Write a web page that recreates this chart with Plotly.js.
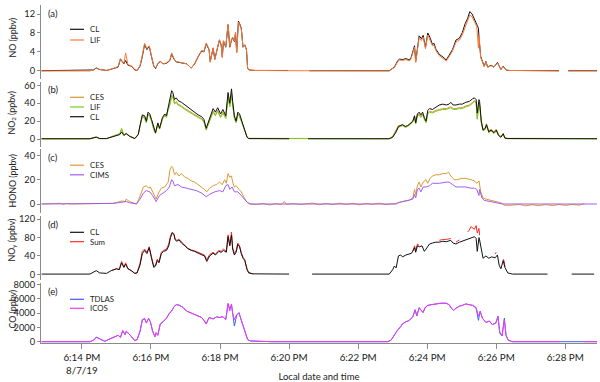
<!DOCTYPE html>
<html><head><meta charset="utf-8">
<script src="https://cdn.plot.ly/plotly-3.0.1.min.js"></script>
<style>html,body{margin:0;padding:0;background:#fff}#chart{width:600px;height:382px}</style>
</head><body><div id="chart"></div>
<script>
// ---------- DATA (times are minutes:seconds after 6:00 PM, 8/7/19) ----------
// Panel (a) NO
const tA = ["12:50","14:14","14:20","14:25","14:31","14:43","14:49","14:57","15:03","15:07",
"15:13","15:16","15:20","15:26","15:32","15:36","15:41","15:45","15:49","15:53",
"15:57","16:01","16:05","16:08","16:12","16:16","16:21","16:27","16:33","16:36",
"16:40","16:44","16:53","17:02","17:10","17:16","17:22","17:28","17:32","17:36",
"17:41","17:43","17:48","17:51","17:55","17:59","18:02","18:04","18:06","18:10",
"18:14","18:17","18:20","18:22","18:25","18:27","18:29","18:32","18:34","18:37",
"18:40","18:43","18:46","18:48","18:51","19:00","19:58","20:00","20:35","22:54",
"22:57","23:03","23:09","23:12","23:17","23:23","23:29","23:32","23:38","23:40",
"23:46","23:50","23:53","23:57","24:01","24:05","24:09","24:12","24:15","24:21",
"24:30","24:33","24:38","24:44","24:50","24:56","25:01","25:06","25:10","25:14",
"25:18","25:22","25:26","25:29","25:30","25:33","25:36","25:39","25:42","25:45",
"25:51","25:56","26:02","26:05","26:08","26:12","26:17","26:22","27:49","27:50",
"28:05","28:55"];
const noCL = [0.05,0.05,0.2,0.6,0.3,0.1,0.3,0.6,0.8,2.5,
1.5,2.2,1.2,1.0,0.2,0.1,1.0,3.0,5.6,4.5,
5.2,3.0,1.0,0.5,1.5,2.0,1.5,1.6,2.2,3.6,
2.5,1.9,1.7,1.5,0.6,1.5,3.0,4.2,4.0,5.7,
4.5,2.0,4.8,2.5,4.5,6.5,5.5,3.0,6.3,5.0,
9.7,5.0,6.5,7.0,6.2,8.0,4.0,10.5,10.0,9.0,
5.0,5.5,4.5,0.5,0.2,0.1,0.1,null,0.05,0.05,
0.3,0.8,2.2,2.5,2.4,2.6,2.3,2.8,5.3,2.0,
7.4,6.8,7.5,5.0,8.0,7.0,5.6,5.8,4.6,3.5,
2.7,2.3,3.3,4.5,6.5,6.9,8.1,10.0,11.0,12.5,
12.0,11.0,10.0,9.0,7.0,3.0,2.0,1.0,2.0,0.8,
1.2,0.8,1.8,1.0,0.3,1.0,0.2,0.1,0.05,null,
0.05,0.05];
const noLIF = [0,0,0.2,0.7,0.3,0.1,0.3,0.6,0.9,2.6,
1.6,3.8,1.3,1.1,0.3,0.1,1.1,3.3,5.8,4.7,
5.3,3.1,1.0,0.6,1.6,2.1,1.5,1.7,2.3,3.8,
2.6,2.0,1.7,1.5,0.6,1.5,3.1,4.3,4.1,5.9,
4.6,1.8,4.9,2.3,4.6,6.6,5.6,2.8,6.4,5.1,
9.9,5.1,6.6,7.1,6.3,8.2,3.8,10.3,9.8,8.8,
5.1,5.4,4.4,0.6,0.2,0.1,0.05,0.05,0,0,
0.3,0.7,2.0,2.3,2.2,2.4,2.1,2.6,5.0,1.8,
7.0,6.4,7.1,4.7,7.6,6.6,5.3,5.4,4.3,3.2,
2.5,2.1,3.0,4.2,6.1,6.5,7.6,9.4,10.4,11.8,
11.4,10.4,9.4,4.8,7.5,2.8,1.9,0.9,1.9,0.8,
1.1,0.8,1.7,0.9,0.3,0.9,0.2,0.1,0,null,
0,0];

// Panel (b) NO2
const tB = ["12:50","14:14","14:25","14:31","14:43","14:51","15:00","15:06","15:09","15:13",
"15:17","15:23","15:32","15:38","15:41","15:45","15:49","15:52","15:55","15:58",
"16:01","16:05","16:08","16:12","16:15","16:20","16:24","16:27","16:30","16:33",
"16:36","16:38","16:41","16:44","16:47","16:53","16:59","17:04","17:10","17:16",
"17:22","17:28","17:32","17:36","17:41","17:48","17:52","17:56","18:01","18:05",
"18:10","18:14","18:17","18:20","18:22","18:25","18:28","18:31","18:34","18:37",
"18:43","18:47","18:50","20:00","20:01","20:33","22:54","23:00","23:06","23:10",
"23:14","23:17","23:22","23:26","23:30","23:35","23:38","23:40","23:43","23:46",
"23:49","23:52","23:55","23:58","24:01","24:04","24:09","24:15","24:21","24:27",
"24:33","24:38","24:41","24:45","24:50","24:56","25:01","25:07","25:13","25:19",
"25:22","25:25","25:27","25:30","25:31","25:34","25:37","25:41","25:43","25:47",
"25:51","25:56","26:00","26:04","26:08","26:12","26:15","26:20","28:55"];
const no2CES = [0.3,0.3,2.5,0.6,0.6,2.4,4.5,6,11,5,
6.5,3.5,0.8,5.5,15,26,24,19,28,26,
21,11,7,17,12,23,27,25,34,39,
49,48,40,42,39,37,34,32,29,27,
25,23,20,11,20,31,27,32,25,30,
24,47,37,51,39,24,19,28,26,21,
10,2.5,0.8,0.5,0.5,0.5,0.5,3,9.5,15,
15,16,14,15,17,20,25,18,27,28,
25,28,23,19,29,31,30,32,33,34,
34,35,36,34,34,35,35,37,38,41,
43,41,23,41,39,19,11,13,17,9,
11,8,11,5,3,6,1.5,0.8,0.5];
const no2LIF = [0.3,0.3,2.2,0.5,0.5,2.2,4,6,12,4.5,
6,3,0.5,5,14,25,23,18,27,25,
20,10,6,16,11,22,26,24,33,38,
48,47,39,41,38,36,33,31,28,26,
24,22,19,10,19,30,26,31,24,29,
23,46,36,50,38,23,18,27,25,20,
9,2,0.5,0.3,0.3,0.3,0.3,2,8,13,
14,15,13,14,16,19,24,17,26,27,
24,27,22,18,28,30,29,31,32,33,
33,34,35,33,33,34,34,36,37,40,
42,40,22,40,38,18,9,11,15,7,
9,6,9,4,2,5,1,0.5,0.3];
const no2CL = [0.3,0.3,2,0.5,0.5,2,4,5,8,4,
6,3,0.5,5,15,27,26,20,30,28,
22,12,7,18,12,24,28,26,36,42,
54,52,44,46,43,41,38,35,32,30,
27,25,22,12,22,34,30,35,28,33,
26,52,40,56,42,26,20,30,28,22,
10,2,0.5,0.3,null,0.3,0.3,2,8,14,
15,16,14,15,17,20,26,18,28,30,
27,30,24,20,32,34,33,36,38,39,
38,39,41,38,38,39,39,41,42,45,
46,44,29,44,42,20,10,12,16,8,
10,7,10,4,2,6,1,0.5,0.3];

// Panel (c) HONO
const tCES = ["12:50","13:22","13:28","13:33","13:40","14:14","14:49","14:54","15:03","15:09",
"15:15","15:17","15:23","15:29","15:35","15:39","15:43","15:47","15:52","15:56",
"15:59","16:03","16:07","16:09","16:14","16:18","16:24","16:30","16:33","16:36",
"16:38","16:41","16:44","16:49","16:53","16:59","17:04","17:10","17:16","17:25",
"17:33","17:37","17:42","17:48","17:54","17:59","18:04","18:08","18:11","18:14",
"18:17","18:20","18:22","18:25","18:28","18:33","18:37","18:41","18:46","18:51",
"19:03","19:15","19:26","19:38","19:46","19:52","19:55","20:07","20:20","20:41",
"20:53","21:04","21:16","21:28","21:39","21:51","22:02","22:14","22:25","22:37",
"22:48","23:06","23:09","23:17","23:29","23:35","23:38","23:40","23:43","23:46",
"23:49","23:53","23:58","24:01","24:05","24:09","24:15","24:21","24:27","24:33",
"24:37","24:41","24:47","24:53","24:59","25:07","25:16","25:22","25:26","25:30",
"25:33","25:37","25:42","25:51","25:59","26:08","26:14","26:28","26:40","26:51",
"27:03","27:14","27:26","27:38","27:49","28:01","28:12","28:24","28:33"];
const honoCES = [0,0.6,-0.3,0.5,0,0,0.2,0.5,1.5,2.5,
2,4,2,1,0,4,10,14,15,13,
14,10,5,4,10,13,14,18,28,31,
30,24,26,23,25,22,21,19,18,15,
12,10,13,15,16,18,16,20,17,25,
22,23,18,14,15,12,10,6,2,0,
-0.5,0.5,-0.8,0.3,-0.5,2,-0.3,0.4,-0.5,0.8,
-0.6,0.5,-0.5,0.7,-0.4,0.6,-0.7,0.5,-0.3,0.7,
-0.5,0.5,1,2,3,5,12,8,15,18,
14,18,20,17,21,23,24,24,25,25,
26,23,20,20,21,21,20,19,17,19,
10,5,4,3,2,1,-1,-1,-0.3,-1.5,
-0.6,-1.4,-0.5,-1.3,-0.4,-1.2,-0.3,-1.0,0.3];
const tCIMS = ["12:50","14:49","14:54","15:03","15:09","15:17","15:23","15:29","15:35","15:41",
"15:47","15:52","15:58","16:03","16:07","16:09","16:15","16:21","16:27","16:32",
"16:36","16:38","16:41","16:47","16:53","17:02","17:10","17:19","17:28","17:36",
"17:42","17:51","17:59","18:05","18:10","18:14","18:17","18:21","18:25","18:31",
"18:37","18:43","18:48","18:54","23:06","23:09","23:29","23:35","23:38","23:40",
"23:43","23:46","23:49","23:53","23:58","24:04","24:09","24:21","24:33","24:38",
"24:44","24:50","24:56","25:07","25:16","25:22","25:26","25:30","25:31","25:35",
"25:39","25:48","25:59","26:11","28:55"];
const honoCIMS = [0,0.2,0.5,1,1.5,2,1,0.5,0,4,
9,11,10,7,3,2,7,9,11,14,
20,19,15,16,14,13,12,11,9,6,
8,10,11,10,15,16,12,14,10,10,
7,4,1,0,0,1,3,4,8,5,
12,13,10,14,14,15,17,17,18,18,
16,14,14,14,13,13,12,7,12,5,
3,2,1,0,0];

// Panel (d) NOy
const tD = ["12:50","14:14","14:25","14:31","14:43","14:51","15:00","15:05","15:09","15:13",
"15:16","15:20","15:26","15:32","15:36","15:41","15:45","15:49","15:53","15:57",
"16:01","16:05","16:08","16:11","16:14","16:18","16:22","16:27","16:31","16:34",
"16:37","16:40","16:42","16:45","16:49","16:53","16:59","17:04","17:10","17:16",
"17:22","17:28","17:33","17:37","17:42","17:48","17:52","17:58","18:02","18:06",
"18:11","18:14","18:17","18:20","18:22","18:25","18:28","18:31","18:34","18:37",
"18:40","18:43","18:47","18:50","18:57","20:00","20:01","20:40","22:54","23:00",
"23:03","23:06","23:10","23:14","23:17","23:23","23:29","23:33","23:38","23:40",
"23:43","23:47","23:51","23:55","23:58","24:04","24:09","24:15","24:21","24:27",
"24:33","24:38","24:41","24:45","24:50","24:56","25:01","25:07","25:13","25:18",
"25:22","25:25","25:27","25:30","25:31","25:35","25:37","25:42","25:47","25:52",
"25:58","26:02","26:05","26:08","26:12","26:15","26:20","26:28","27:29","27:30",
"28:11","28:50"];
const noyCL = [0.5,0.5,8,3,2,8,12,10,25,15,
22,12,8,2,3,20,45,52,45,58,
35,15,18,30,25,45,50,52,62,80,
90,87,75,72,75,68,62,56,52,50,
46,43,40,28,40,46,42,50,48,52,
48,82,62,85,55,42,48,65,60,45,
35,30,10,3,1,0.5,null,0.5,0.5,10,
18,14,40,42,38,42,44,46,58,48,
62,60,62,50,55,66,68,70,70,72,
71,72,74,68,66,70,72,74,78,80,
82,78,50,80,75,50,35,40,35,38,
36,42,20,12,30,15,3,0.5,0.5,null,
0.5,0.5];
const tSum = ["14:51","15:00","15:05","15:09","15:13","15:16","15:20","15:26","15:32","15:36",
"15:41","15:45","15:49","15:53","15:57","16:01","16:05","16:08","16:11","16:14",
"16:18","16:22","16:27","16:31","16:34","16:37","16:40","16:42","16:45","16:49",
"16:53","16:59","17:04","17:10","17:16","17:22","17:28","17:33","17:37","17:42",
"17:48","17:52","17:58","18:02","18:06","18:11","18:14","18:17","18:20","18:22",
"18:25","18:28","18:31","18:34","18:37","18:40","18:43","18:47","18:50","18:57",
"23:00","23:35","23:38","23:40","23:43","23:46","23:48","24:21","24:27","24:33",
"24:38","24:41","24:43","24:50","24:56","24:58","25:10","25:13","25:16","25:19",
"25:22","25:25","25:27","25:30","25:31","25:32","25:58","26:00","26:01","26:12",
"26:14","26:15","26:16"];
const noySum = [8,12,11,28,16,25,13,8,2,4,
24,50,55,48,60,38,17,20,33,27,
48,52,55,66,84,92,88,77,74,76,
70,63,57,53,51,48,45,42,32,43,
48,44,52,50,55,50,86,65,92,58,
45,52,68,62,47,37,32,12,4,1,
null,50,62,52,66,63,null,74,76,76,
77,78,null,70,75,null,92,96,104,100,
98,106,90,100,85,null,44,48,null,33,
28,16,null];

// Panel (e) CO
const tE = ["12:50","14:14","14:20","14:25","14:31","14:40","14:46","14:54","15:03","15:07",
"15:11","15:15","15:17","15:22","15:26","15:32","15:36","15:41","15:45","15:49",
"15:52","15:56","15:59","16:03","16:07","16:09","16:12","16:16","16:21","16:27",
"16:32","16:36","16:40","16:44","16:50","16:56","17:02","17:10","17:19","17:28",
"17:33","17:36","17:41","17:48","17:54","17:59","18:05","18:10","18:14","18:17",
"18:20","18:22","18:25","18:29","18:33","18:37","18:41","18:44","18:48","18:53",
"19:30","22:51","22:57","23:02","23:06","23:09","23:13","23:17","23:23","23:29",
"23:35","23:39","23:42","23:46","23:49","23:53","23:56","24:01","24:07","24:15",
"24:24","24:33","24:38","24:42","24:46","24:50","24:56","25:01","25:07","25:13",
"25:19","25:25","25:29","25:32","25:36","25:42","25:48","25:53","25:59","26:03",
"26:06","26:10","26:14","26:17","26:21","26:28","27:51","27:52","28:32","28:33",
"28:55"];
const coTDLAS = [0,0,200,650,400,50,300,600,900,600,
1500,1000,1400,1100,700,150,300,1400,3100,3200,
2700,3200,2800,1400,700,1200,900,2400,2800,3300,
4000,4300,4900,5200,5100,4800,4300,4000,3700,3400,
2900,2500,3400,3200,3500,3400,3500,3100,5300,4600,
5200,4200,2200,3700,4100,3000,2100,1300,300,100,
0,0,200,800,1300,1700,2000,2500,2800,3000,
3500,4500,3600,4800,4400,4100,4700,5100,5200,5300,
5400,5400,5200,4700,4400,4700,5000,5100,5300,5200,
5100,4700,3000,4300,3300,2700,2900,2400,2600,3600,
1200,800,3300,900,200,0,0,0,0,0,
0];
const coICOS = [0,0,200,600,400,50,300,600,900,600,
1600,1000,1500,1100,700,150,300,1500,3000,3300,
2600,3300,2800,1500,700,1300,900,2500,2800,3300,
4000,4300,4900,5200,5100,4800,4300,4000,3700,3400,
2900,2500,3400,3200,3500,3400,3500,3100,5400,4300,
5300,4000,3100,3800,4000,3000,2000,1300,300,100,
0,0,200,800,1400,1700,2000,2500,2800,3000,
3500,4400,3700,4700,4500,4100,4800,5100,5200,5300,
5400,5400,5200,4700,4400,4700,5000,5100,5300,5200,
5100,4800,3600,4200,3300,2700,2900,2400,2600,3400,
1400,800,3000,800,200,0,0,null,null,0,
0];

// Axis ticks / labels
const xTickTimes = ["14:00","16:00","18:00","20:00","22:00","24:00","26:00","28:00"];
const xTickText = ["6:14 PM<br>8/7/19","6:16 PM","6:18 PM","6:20 PM","6:22 PM","6:24 PM","6:26 PM","6:28 PM"];
const panelLabels = ["(a)","(b)","(c)","(d)","(e)"];
const yTitles = ["NO (ppbv)","NO<sub>2</sub> (ppbv)","HONO (ppbv)","NO<sub>y</sub> (ppbv)","CO (ppbv)"];
const yTicks = [[0,4,8,12],[0,20,40,60],[0,20,40],[0,40,80,120],[0,2000,4000,6000,8000]];

// ---------- STYLE ----------
const C = {
  noCL:"#111111", noLIF:"#FA7A3A",
  no2CES:"#E0922E", no2LIF:"#7ACC22", no2CL:"#111111",
  honoCES:"#DE9A30", honoCIMS:"#A35CF2",
  noyCL:"#111111", noySum:"#FF2B2B",
  coTDLAS:"#3F5CFF", coICOS:"#F53AF0"
};
const legends = [
  [["CL",C.noCL],["LIF",C.noLIF]],
  [["CES",C.no2CES],["LIF",C.no2LIF],["CL",C.no2CL]],
  [["CES",C.honoCES],["CIMS",C.honoCIMS]],
  [["CL",C.noyCL],["Sum",C.noySum]],
  [["TDLAS",C.coTDLAS],["ICOS",C.coICOS]]
];
const legendY = [[29.3,40],[97.3,107,116.7],[165.2,174.8],[232.3,241.7],[299.3,308.3]];
const titleY = [38,113,181,240,309];

const W = 600, H = 382, ML = 41, MR = 3, MT = 5, MB = 39;
const PW = W - ML - MR, PH = H - MT - MB;
const px2x = px => (px - ML) / PW;
const py2y = py => (H - MB - py) / PH;
const domTop = [5,82,149,216,283], domBot = [79,147,213,280,343];
const ranges = [[-1.7,13.9],[-8.9,63.7],[-7.4,45.2],[-12.4,127],[-182,8240]];

const FONT = "Lato, 'Open Sans', sans-serif";
const GRAY = "#8a8a8a", TXT = "#222";
const T = a => a.map(s => "2019-08-07 18:" + s);

const traces = [];
function add(t, y, color, ax, name) {
  traces.push({type:"scatter", mode:"lines", x:T(t), y:y, name:name, xaxis:"x", yaxis:ax,
    line:{color:color, width:1}, connectgaps:false, showlegend:false, hoverinfo:"skip"});
}
add(tA, noCL, C.noCL, "y", "CL");
add(tA, noLIF, C.noLIF, "y", "LIF");
add(tB, no2CES, C.no2CES, "y2", "CES");
add(tB, no2LIF, C.no2LIF, "y2", "LIF");
add(tB, no2CL, C.no2CL, "y2", "CL");
add(tCES, honoCES, C.honoCES, "y3", "CES");
add(tCIMS, honoCIMS, C.honoCIMS, "y3", "CIMS");
add(tSum, noySum, C.noySum, "y4", "Sum");
add(tD, noyCL, C.noyCL, "y4", "CL");
add(tE, coTDLAS, C.coTDLAS, "y5", "TDLAS");
add(tE, coICOS, C.coICOS, "y5", "ICOS");

const layout = {
  width: W, height: H, margin:{l:ML, r:MR, t:MT, b:MB},
  paper_bgcolor:"#fff", plot_bgcolor:"#fff", showlegend:false,
  font:{family:FONT, color:TXT, size:9},
  xaxis:{type:"date", anchor:"y5", range:["2019-08-07 18:12:49","2019-08-07 18:28:55"],
    tickvals:T(xTickTimes), ticktext:xTickText, ticks:"outside", ticklen:5, tickwidth:1,
    tickcolor:GRAY, showline:true, linecolor:GRAY, linewidth:1, showgrid:false, zeroline:false,
    tickfont:{family:FONT, size:9.8, color:TXT},
    title:{text:"Local date and time", font:{family:FONT, size:9.5, color:TXT}, standoff:4}},
  annotations:[], shapes:[]
};
for (let i = 0; i < 5; i++) {
  const key = i === 0 ? "yaxis" : "yaxis" + (i + 1);
  layout[key] = {domain:[py2y(domBot[i]), py2y(domTop[i])], range:ranges[i], anchor:"x",
    showline:true, linecolor:GRAY, linewidth:1, ticks:"outside", ticklen:3, tickwidth:1,
    tickcolor:GRAY, tickvals:yTicks[i], showgrid:false, zeroline:false,
    tickfont:{family:FONT, size:9.3, color:TXT}};
  layout.annotations.push({xref:"paper", yref:"paper", x:px2x(11.5), y:py2y(titleY[i]),
    text:yTitles[i], textangle:-90, showarrow:false, xanchor:"center", yanchor:"middle",
    font:{family:FONT, size:8.8, color:TXT}});
  layout.annotations.push({xref:"paper", yref:"paper", x:px2x(46), y:py2y(domTop[i] + 8),
    text:panelLabels[i], showarrow:false, xanchor:"left", yanchor:"middle",
    font:{family:FONT, size:9.5, color:TXT}});
  legends[i].forEach((item, j) => {
    const yy = py2y(legendY[i][j]);
    layout.shapes.push({type:"line", xref:"paper", yref:"paper", x0:px2x(70), x1:px2x(84),
      y0:yy, y1:yy, line:{color:item[1], width:1.2}});
    layout.annotations.push({xref:"paper", yref:"paper", x:px2x(88), y:yy, text:item[0],
      showarrow:false, xanchor:"left", yanchor:"middle", font:{family:FONT, size:7.8, color:TXT}});
  });
}
Plotly.newPlot("chart", traces, layout, {staticPlot:true, displayModeBar:false});
</script></body></html>
